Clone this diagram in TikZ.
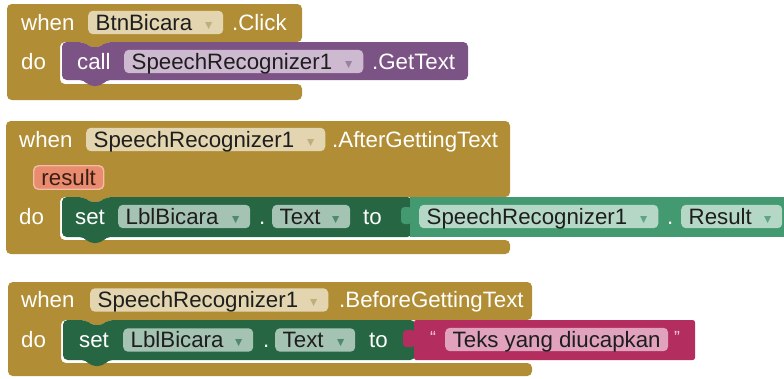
\documentclass[tikz,border=0pt]{standalone}
\usepackage{fontspec}
\setmainfont{Liberation Sans}
\newfontfamily\symfont{DejaVu Sans}

% block colours
\definecolor{gold}{HTML}{B18E35}
\definecolor{goldfield}{HTML}{E2D5AF}
\definecolor{goldarrow}{HTML}{C2AE7C}
\definecolor{methodpurple}{HTML}{7C5385}
\definecolor{purplefield}{HTML}{CDBAD0}
\definecolor{purplearrow}{HTML}{9A80A1}
\definecolor{setgreen}{HTML}{266643}
\definecolor{setfield}{HTML}{A4C3B3}
\definecolor{setarrow}{HTML}{4F8A6B}
\definecolor{getgreen}{HTML}{439970}
\definecolor{getfield}{HTML}{B5D8C6}
\definecolor{getarrow}{HTML}{5FA583}
\definecolor{textpink}{HTML}{B32D5E}
\definecolor{pinkfield}{HTML}{E1A2BD}
\definecolor{quotecolor}{HTML}{F6D3E0}
\definecolor{resultfill}{HTML}{E88B6E}
\definecolor{resultline}{HTML}{F5BBA6}
\definecolor{resulttext}{HTML}{3A1E14}
\definecolor{fieldtext}{HTML}{1E1E1E}

\newcommand{\blockfont}{\fontsize{19}{21}\selectfont}
\newcommand{\dropmark}[1]{\hskip0pt plus1filll{\symfont\fontsize{8}{8}\selectfont\textcolor{#1}{\raisebox{2pt}{▼}}}\hspace*{3pt}}
\def\px{0.8536pt}

\tikzset{
  lbl/.style={anchor=west, inner sep=0pt, text=white, font=\blockfont,
    text height=13.6pt, text depth=0pt},
  field/.style={anchor=west, inner xsep=6.4pt, inner ysep=0pt, rounded corners=4pt,
    minimum height=20pt, text=fieldtext, font=\blockfont, text height=13.6pt, text depth=0pt},
  quotemark/.style={anchor=west, inner sep=0pt, text=quotecolor, font=\fontsize{15}{15}\selectfont},
}

\begin{document}
\begin{tikzpicture}[x=0.03cm, y=-0.03cm]
\clip (0,0) rectangle (784,378);

% when BtnBicara.Click
\fill[gold, rounded corners=4pt] (7,4) -- (302,4) -- (302,42) -- (106,42) -- (101,47) -- (89,47) -- (84,42)
  -- (60,42) -- (60,84) -- (302,84) -- (302,100) -- (7,100) -- cycle;
\fill[methodpurple, rounded corners=4pt] (62,42) -- (84,42) -- (89,47) -- (101,47) -- (106,42) -- (468,42)
  -- (468,80) -- (106,80) -- (101,86) -- (89,86) -- (84,80) -- (62,80) -- cycle;
\node[lbl] (whenA) at (21,23) {when};
\node[field, fill=goldfield, text width={(135-15)*\px}] (btnfield) at (88,22.5) {BtnBicara\dropmark{goldarrow}};
\node[lbl] (clickA) at (232,23) {.Click};
\node[lbl] (doA) at (21,61.5) {do};
\node[lbl] (callA) at (77,61.5) {call};
\node[field, fill=purplefield, text width={(239-15)*\px}] (srfieldA) at (124,61.5) {SpeechRecognizer1\dropmark{purplearrow}};
\node[lbl] (gettextA) at (372,61.5) {.GetText};

% when SpeechRecognizer1.AfterGettingText
\fill[gold, rounded corners=4pt] (6,121) -- (510,121) -- (510,197) -- (106,197) -- (101,202) -- (89,202) -- (84,197)
  -- (60,197) -- (60,240) -- (510,240) -- (510,254) -- (6,254) -- cycle;
\fill[setgreen, rounded corners=4pt] (62,197) -- (84,197) -- (89,202) -- (101,202) -- (106,197) -- (412,197)
  -- (412,237) -- (106,237) -- (101,243) -- (89,243) -- (84,237) -- (62,237) -- cycle;
\fill[getgreen] (410,197) rectangle (790,237);
\fill[getgreen, rounded corners=3pt] (401,207) rectangle (412,224);
\node[lbl] (whenB) at (19,139.5) {when};
\node[field, fill=goldfield, text width={(239-15)*\px}] (srfieldB) at (86,139.5) {SpeechRecognizer1\dropmark{goldarrow}};
\node[lbl] (afterB) at (332,139.5) {.AfterGettingText};
\node[field, fill=resultfill, draw=resultline, line width=1.2pt, text=resulttext, minimum width={70*\px},
  inner xsep=4pt] (resultparam) at (33,177.5) {result};
\node[lbl] (doB) at (19,216.5) {do};
\node[lbl] (setB) at (75,216.5) {set};
\node[field, fill=setfield, text width={(132-15)*\px}] (lblfieldB) at (118,216.5) {LblBicara\dropmark{setarrow}};
\node[lbl] (dotB) at (259,216.5) {.};
\node[field, fill=setfield, text width={(78-15)*\px}] (textfieldB) at (272,216.5) {Text\dropmark{setarrow}};
\node[lbl] (toB) at (363,216.5) {to};
\node[field, fill=getfield, text width={(239-15)*\px}] (srresfield) at (419,216.5) {SpeechRecognizer1\dropmark{getarrow}};
\node[lbl] (dotR) at (667,216.5) {.};
\node[field, fill=getfield, text width={(101-15)*\px}] (resultfield) at (681,216.5) {Result\dropmark{getarrow}};

% when SpeechRecognizer1.BeforeGettingText
\fill[gold, rounded corners=4pt] (8,282) -- (532,282) -- (532,320) -- (108,320) -- (103,325) -- (91,325) -- (86,320)
  -- (61,320) -- (61,363) -- (532,363) -- (532,376) -- (8,376) -- cycle;
\fill[setgreen, rounded corners=4pt] (63,320) -- (86,320) -- (91,325) -- (103,325) -- (108,320) -- (415,320)
  -- (415,360) -- (108,360) -- (103,366) -- (91,366) -- (86,360) -- (63,360) -- cycle;
\fill[textpink, rounded corners=2pt] (414,320) rectangle (695,360);
\fill[textpink, rounded corners=3pt] (403,330) rectangle (415,347);
\node[lbl] (whenC) at (21,300) {when};
\node[field, fill=goldfield, text width={(238-15)*\px}] (srfieldC) at (90,300) {SpeechRecognizer1\dropmark{goldarrow}};
\node[lbl] (beforeC) at (339,300) {.BeforeGettingText};
\node[lbl] (doC) at (21,340) {do};
\node[lbl] (setC) at (79,340) {set};
\node[field, fill=setfield, text width={(130-15)*\px}] (lblfieldC) at (123,340) {LblBicara\dropmark{setarrow}};
\node[lbl] (dotC) at (263,340) {.};
\node[field, fill=setfield, text width={(80-15)*\px}] (textfieldC) at (275,340) {Text\dropmark{setarrow}};
\node[lbl] (toC) at (369,340) {to};
\node[quotemark] (quoteL) at (430,337) {“};
\node[field, fill=pinkfield, minimum width={218*\px}] (teksfield) at (445,339.5) {Teks yang diucapkan};
\node[quotemark] (quoteR) at (674,337) {”};
\end{tikzpicture}
\end{document}
